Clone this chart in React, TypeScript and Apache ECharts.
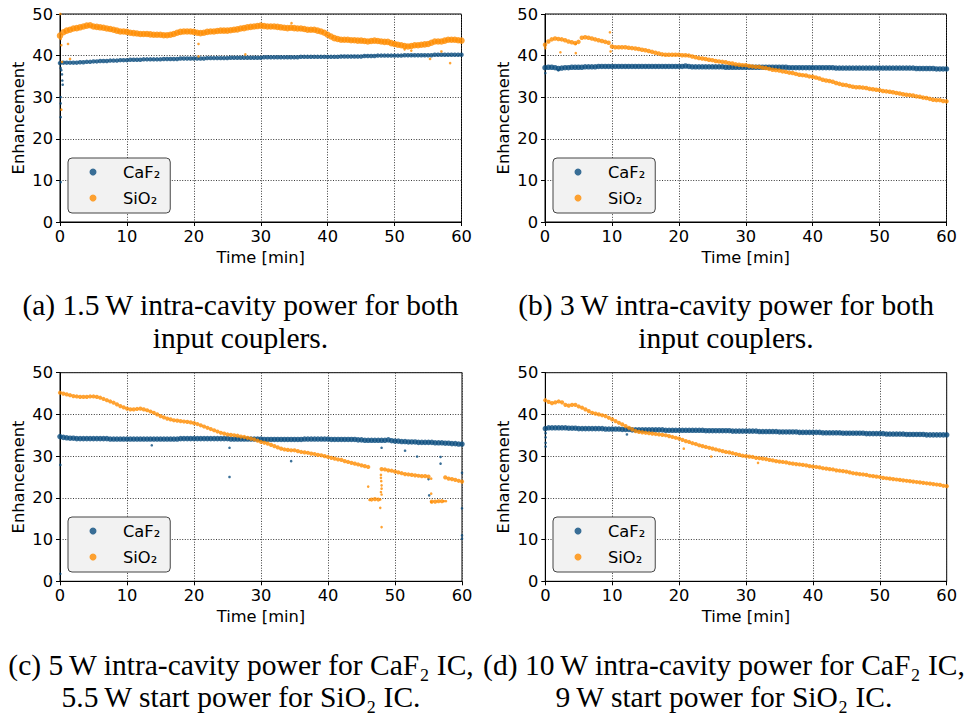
import React, { useEffect, useRef } from "react";
import * as echarts from "echarts";

// ---------------- data ----------------
const TIME = [
  0, 0.5, 1, 1.5, 2, 2.5, 3, 3.5, 4, 4.5, 5, 5.5, 6, 6.5, 7, 7.5, 8, 8.5, 9, 9.5,
  10, 10.5, 11, 11.5, 12, 12.5, 13, 13.5, 14, 14.5, 15, 15.5, 16, 16.5, 17, 17.5, 18, 18.5, 19, 19.5,
  20, 20.5, 21, 21.5, 22, 22.5, 23, 23.5, 24, 24.5, 25, 25.5, 26, 26.5, 27, 27.5, 28, 28.5, 29, 29.5,
  30, 30.5, 31, 31.5, 32, 32.5, 33, 33.5, 34, 34.5, 35, 35.5, 36, 36.5, 37, 37.5, 38, 38.5, 39, 39.5,
  40, 40.5, 41, 41.5, 42, 42.5, 43, 43.5, 44, 44.5, 45, 45.5, 46, 46.5, 47, 47.5, 48, 48.5, 49, 49.5,
  50, 50.5, 51, 51.5, 52, 52.5, 53, 53.5, 54, 54.5, 55, 55.5, 56, 56.5, 57, 57.5, 58, 58.5, 59, 59.5,
  60,
];

const X_TICKS = [0, 10, 20, 30, 40, 50, 60];
const Y_TICKS = [0, 10, 20, 30, 40, 50];
const SERIES_NAMES = ["CaF\u2082", "SiO\u2082"];

// (a) 1.5 W
const A_CAF2 = [
  38.2, 38.3, 38.3, 38.3, 38.3, 38.3, 38.4, 38.4, 38.5, 38.5, 38.6, 38.6, 38.7, 38.7, 38.7, 38.8, 38.8, 38.8, 38.9, 38.9,
  38.9, 39.0, 39.0, 39.0, 39.0, 39.1, 39.1, 39.1, 39.1, 39.1, 39.1, 39.2, 39.2, 39.2, 39.2, 39.2, 39.3, 39.3, 39.3, 39.3,
  39.3, 39.3, 39.3, 39.3, 39.4, 39.4, 39.4, 39.4, 39.4, 39.4, 39.4, 39.5, 39.5, 39.5, 39.5, 39.5, 39.5, 39.5, 39.5, 39.5,
  39.5, 39.6, 39.6, 39.6, 39.6, 39.6, 39.6, 39.6, 39.6, 39.6, 39.6, 39.6, 39.7, 39.7, 39.7, 39.7, 39.7, 39.7, 39.7, 39.7,
  39.7, 39.7, 39.7, 39.7, 39.8, 39.8, 39.8, 39.8, 39.8, 39.8, 39.8, 39.9, 39.9, 39.9, 39.9, 40.0, 40.0, 40.0, 40.0, 40.0,
  40.0, 40.0, 40.0, 40.1, 40.1, 40.1, 40.1, 40.1, 40.1, 40.1, 40.1, 40.1, 40.2, 40.2, 40.2, 40.2, 40.2, 40.2, 40.2, 40.2,
  40.2,
];
const A_SIO2 = [
  44.8, 45.6, 46.0, 46.2, 46.5, 46.6, 46.8, 47.0, 47.2, 47.3, 47.0, 46.9, 46.8, 46.7, 46.5, 46.4, 46.2, 46.0, 45.8, 45.8,
  45.7, 45.5, 45.4, 45.3, 45.2, 45.2, 45.2, 45.1, 45.0, 45.0, 45.0, 44.9, 44.9, 45.0, 45.2, 45.5, 45.7, 45.8, 45.8, 45.8,
  45.7, 45.5, 45.4, 45.5, 45.7, 45.8, 45.8, 45.9, 46.0, 46.0, 46.0, 46.1, 46.2, 46.3, 46.5, 46.6, 46.8, 46.9, 47.0, 47.1,
  47.2, 47.1, 47.0, 47.0, 47.0, 46.9, 46.8, 46.7, 46.6, 46.7, 46.6, 46.5, 46.5, 46.4, 46.2, 46.2, 46.2, 46.0, 45.8, 45.5,
  45.0, 44.6, 44.2, 44.0, 43.8, 43.8, 43.8, 43.7, 43.7, 43.6, 43.6, 43.5, 43.4, 43.5, 43.6, 43.5, 43.4, 43.3, 43.3, 43.0,
  42.8, 42.6, 42.5, 42.3, 42.2, 42.3, 42.5, 42.5, 42.6, 42.7, 42.8, 43.1, 43.4, 43.4, 43.4, 43.6, 43.8, 43.8, 43.8, 43.7,
  43.6,
];
const A_CAF2_OUT = [
  [0.1, 37.0], [0.2, 36.5], [0.3, 35.5], [0.35, 34.0], [0.4, 33.0], [0.1, 30.0], [0.1, 28.5], [0.1, 25.2], [0.1, 9.6],
];
const A_SIO2_OUT = [
  [0.1, 44.0], [0.2, 42.5], [0.3, 38.5], [0.2, 27.0], [0.05, 50.0], [1.2, 42.8], [1.5, 39.2], [20.7, 39.8], [20.7, 42.8],
  [27.7, 40.3], [34.6, 47.8], [55.3, 39.2], [58.3, 38.2], [57.0, 41.0], [52.5, 41.2], [51.5, 41.5],
];

// (b) 3 W
const B_CAF2 = [
  37.1, 37.2, 37.2, 37.1, 36.9, 37.0, 37.1, 37.1, 37.2, 37.2, 37.2, 37.2, 37.3, 37.3, 37.3, 37.3, 37.4, 37.4, 37.4, 37.4,
  37.4, 37.4, 37.4, 37.4, 37.4, 37.4, 37.4, 37.4, 37.4, 37.4, 37.4, 37.4, 37.4, 37.4, 37.4, 37.4, 37.4, 37.4, 37.4, 37.4,
  37.4, 37.4, 37.5, 37.4, 37.3, 37.3, 37.3, 37.3, 37.3, 37.3, 37.3, 37.3, 37.3, 37.3, 37.2, 37.2, 37.2, 37.2, 37.2, 37.2,
  37.2, 37.2, 37.2, 37.2, 37.2, 37.2, 37.2, 37.2, 37.2, 37.2, 37.2, 37.2, 37.2, 37.1, 37.1, 37.1, 37.1, 37.1, 37.1, 37.1,
  37.1, 37.1, 37.1, 37.1, 37.1, 37.1, 37.1, 37.0, 37.0, 37.0, 37.0, 37.0, 37.0, 37.0, 37.0, 37.0, 37.0, 37.0, 37.0, 37.0,
  37.0, 37.0, 37.0, 37.0, 37.0, 37.0, 37.0, 37.0, 37.0, 37.0, 37.0, 36.9, 36.9, 36.9, 36.9, 36.9, 36.9, 36.8, 36.8, 36.8,
  36.8,
];
const B_SIO2 = [
  42.6, 43.4, 43.9, 44.1, 44.0, 43.9, 43.7, 43.4, 43.2, 43.0, 43.3, 44.3, 44.4, 44.3, 44.1, 43.9, 43.7, 43.5, 43.3, 43.1,
  42.2, 42.0, 42.0, 42.0, 42.0, 41.9, 41.8, 41.7, 41.6, 41.4, 41.3, 41.1, 40.9, 40.7, 40.5, 40.3, 40.2, 40.2, 40.2, 40.2,
  40.2, 40.1, 40.1, 40.0, 39.8, 39.6, 39.4, 39.3, 39.2, 39.0, 38.9, 38.7, 38.6, 38.5, 38.4, 38.2, 38.1, 37.9, 37.8, 37.7,
  37.7, 37.5, 37.4, 37.3, 37.3, 37.1, 37.0, 36.8, 36.6, 36.5, 36.4, 36.2, 36.1, 35.9, 35.8, 35.6, 35.4, 35.3, 35.2, 35.0,
  34.9, 34.7, 34.5, 34.2, 34.0, 33.9, 33.7, 33.4, 33.2, 33.0, 32.9, 32.7, 32.5, 32.4, 32.4, 32.3, 32.2, 32.0, 31.9, 31.8,
  31.7, 31.5, 31.4, 31.3, 31.2, 31.0, 30.9, 30.7, 30.6, 30.5, 30.4, 30.2, 30.1, 29.9, 29.8, 29.6, 29.4, 29.3, 29.3, 29.1,
  29.0,
];
const B_CAF2_OUT = [[0.05, 35.8], [2.0, 36.5]];
const B_SIO2_OUT = [[0.05, 41.8], [2.3, 40.8], [4.6, 42.8], [4.6, 40.6], [9.7, 45.6], [9.8, 41.0]];

// (c) 5 W / 5.5 W
const C_CAF2 = [
  34.7, 34.5, 34.4, 34.3, 34.3, 34.2, 34.2, 34.2, 34.2, 34.2, 34.2, 34.2, 34.2, 34.2, 34.2, 34.1, 34.1, 34.1, 34.1, 34.1,
  34.1, 34.1, 34.1, 34.1, 34.1, 34.1, 34.1, 34.1, 34.1, 34.1, 34.1, 34.1, 34.1, 34.1, 34.1, 34.1, 34.2, 34.2, 34.2, 34.2,
  34.2, 34.2, 34.2, 34.2, 34.2, 34.2, 34.2, 34.2, 34.2, 34.2, 34.2, 34.1, 34.1, 34.1, 34.1, 34.1, 34.1, 34.1, 34.1, 34.1,
  34.1, 34.0, 34.0, 34.0, 34.0, 34.0, 34.0, 34.0, 34.0, 34.0, 34.0, 34.0, 34.0, 34.1, 34.1, 34.1, 34.1, 34.1, 34.1, 34.1,
  34.1, 34.0, 34.0, 34.0, 34.0, 34.0, 34.0, 34.0, 34.0, 33.9, 33.9, 33.8, 33.8, 33.8, 33.8, 33.8, 33.8, 33.8, 33.9, 33.7,
  33.6, 33.6, 33.5, 33.5, 33.4, 33.4, 33.4, 33.3, 33.3, 33.3, 33.3, 33.3, 33.2, 33.2, 33.2, 33.1, 33.1, 33.0, 33.0, 32.9,
  32.9,
];
const C_SIO2 = [
  45.2, 45.0, 44.8, 44.6, 44.4, 44.3, 44.2, 44.2, 44.2, 44.3, 44.3, 44.2, 44.0, 43.7, 43.4, 43.1, 42.8, 42.4, 42.0, 41.7,
  41.4, 41.2, 41.2, 41.3, 41.4, 41.2, 41.0, 40.7, 40.4, 40.0, 39.6, 39.3, 39.0, 38.8, 38.6, 38.5, 38.4, 38.3, 38.2, 38.1,
  37.9, 37.7, 37.4, 37.1, 36.8, 36.5, 36.2, 35.9, 35.6, 35.4, 35.2, 35.1, 35.0, 34.9, 34.7, 34.6, 34.4, 34.2, 34.0, 33.7,
  33.4, 33.2, 33.0, 32.7, 32.4, 32.1, 31.8, 31.6, 31.5, 31.4, 31.4, 31.2, 31.0, 30.9, 30.8, 30.6, 30.5, 30.3, 30.2, 30.0,
  29.8, 29.6, 29.4, 29.2, 29.1, 28.8, 28.6, 28.4, 28.2, 28.0, 27.8, 27.6, 27.4, 19.6, 19.7, 19.6, 26.9, 26.8, 26.6, 26.5,
  26.3, 26.1, 25.9, 25.7, 25.6, 25.5, 25.4, 25.3, 25.2, 25.2, 25.1, 19.1, 19.1, 19.2, 19.2, 24.9, 24.6, 24.5, 24.3, 24.1,
  23.9,
];
const C_CAF2_OUT = [
  [0.05, 27.9], [0.05, 1.8], [13.7, 32.6], [25.3, 32.0], [25.3, 25.0], [34.5, 28.8], [48.0, 32.0], [51.5, 31.3],
  [53.3, 29.9], [56.8, 29.8], [56.8, 28.2], [55.0, 24.5], [55.1, 20.6], [60.0, 26.0], [60.0, 17.5], [60.0, 11.0], [60.0, 10.2],
];
const C_SIO2_OUT = [
  [46.2, 19.5], [47.8, 19.6], [46.0, 22.7], [47.9, 25.5], [47.9, 24.8], [47.95, 24.0], [48.0, 23.0], [48.0, 22.2],
  [47.9, 21.4], [48.0, 20.8], [47.8, 17.6], [48.0, 13.0], [55.4, 19.0], [55.4, 24.6], [55.4, 21.0], [57.6, 19.2], [57.3, 19.2],
];

// (d) 10 W / 9 W
const D_CAF2 = [
  36.6, 36.8, 36.8, 36.8, 36.8, 36.8, 36.8, 36.7, 36.7, 36.7, 36.6, 36.6, 36.6, 36.6, 36.6, 36.6, 36.6, 36.6, 36.5, 36.5,
  36.5, 36.5, 36.5, 36.4, 36.4, 36.4, 36.3, 36.3, 36.3, 36.3, 36.3, 36.3, 36.3, 36.3, 36.3, 36.3, 36.2, 36.2, 36.2, 36.2,
  36.2, 36.2, 36.2, 36.2, 36.2, 36.2, 36.2, 36.2, 36.1, 36.1, 36.1, 36.1, 36.1, 36.1, 36.1, 36.1, 36.0, 36.0, 36.0, 36.0,
  36.0, 36.0, 36.0, 36.0, 35.9, 35.9, 35.9, 35.9, 35.9, 35.9, 35.8, 35.8, 35.8, 35.8, 35.8, 35.8, 35.7, 35.7, 35.7, 35.7,
  35.7, 35.7, 35.7, 35.6, 35.6, 35.6, 35.6, 35.6, 35.6, 35.5, 35.5, 35.5, 35.5, 35.5, 35.5, 35.5, 35.4, 35.4, 35.4, 35.4,
  35.4, 35.4, 35.3, 35.3, 35.3, 35.3, 35.3, 35.3, 35.2, 35.2, 35.2, 35.2, 35.2, 35.2, 35.1, 35.1, 35.1, 35.1, 35.1, 35.1,
  35.1,
];
const D_SIO2 = [
  43.4, 43.0, 42.7, 42.9, 43.1, 42.9, 42.3, 42.1, 42.3, 42.3, 41.9, 41.6, 41.2, 40.8, 40.4, 40.2, 40.0, 39.8, 39.6, 39.2,
  38.8, 38.4, 38.0, 37.6, 37.2, 36.8, 36.4, 36.0, 35.8, 35.7, 35.6, 35.5, 35.4, 35.3, 35.2, 35.1, 35.0, 34.8, 34.6, 34.4,
  34.2, 33.9, 33.6, 33.4, 33.1, 32.9, 32.6, 32.4, 32.2, 32.0, 31.8, 31.6, 31.4, 31.2, 31.0, 30.9, 30.7, 30.5, 30.3, 30.1,
  30.0, 29.9, 29.8, 29.6, 29.5, 29.4, 29.3, 29.1, 29.0, 28.8, 28.7, 28.6, 28.5, 28.3, 28.2, 28.1, 28.0, 27.9, 27.8, 27.6,
  27.5, 27.4, 27.3, 27.1, 27.0, 26.9, 26.8, 26.6, 26.5, 26.4, 26.3, 26.1, 25.9, 25.8, 25.7, 25.6, 25.5, 25.3, 25.2, 25.1,
  25.0, 24.8, 24.7, 24.6, 24.5, 24.4, 24.3, 24.2, 24.1, 24.0, 23.9, 23.8, 23.7, 23.6, 23.5, 23.4, 23.3, 23.2, 23.1, 22.9,
  22.8,
];
const D_CAF2_OUT = [[0.05, 35.5], [0.05, 34.5], [0.05, 33.2], [0.05, 32.3], [12.2, 35.2]];
const D_SIO2_OUT = [[20.7, 31.8], [24.8, 29.9], [31.8, 28.4]];

const CAPTIONS = [
  ["(a) 1.5\u2009W intra-cavity power for both", "input couplers."],
  ["(b) 3\u2009W intra-cavity power for both", "input couplers."],
  ["(c) 5\u2009W intra-cavity power for CaF\u2082 IC,", "5.5\u2009W start power for SiO\u2082 IC."],
  ["(d) 10\u2009W intra-cavity power for CaF\u2082 IC,", "9\u2009W start power for SiO\u2082 IC."],
];

// ---------------- styling / layout ----------------
const BLUE = "#0a4c7e";
const ORANGE = "#ff8c00";
const SANS = "DejaVu Sans";
const SERIF = "Liberation Serif";
const FS = 16.3;

const PANELS = [
  { grid: { left: 60, top: 14, width: 401.5, height: 208 }, legend: { left: 68, top: 158 }, caf: A_CAF2, sio: A_SIO2, cafOut: A_CAF2_OUT, sioOut: A_SIO2_OUT, cafSize: 4.5, sioSize: 6.5, cap: { x: 240.5, y1: 305, y2: 338 } },
  { grid: { left: 545, top: 14, width: 401.5, height: 208 }, legend: { left: 553, top: 158 }, caf: B_CAF2, sio: B_SIO2, cafOut: B_CAF2_OUT, sioOut: B_SIO2_OUT, cafSize: 5.5, sioSize: 4.5, cap: { x: 726, y1: 305, y2: 338 } },
  { grid: { left: 60, top: 372.7, width: 402, height: 208.6 }, legend: { left: 68, top: 517 }, caf: C_CAF2, sio: C_SIO2, cafOut: C_CAF2_OUT, sioOut: C_SIO2_OUT, cafSize: 5.5, sioSize: 4.2, cap: { x: 241, y1: 665, y2: 697 } },
  { grid: { left: 545.3, top: 372.7, width: 401.4, height: 208.6 }, legend: { left: 553, top: 517 }, caf: D_CAF2, sio: D_SIO2, cafOut: D_CAF2_OUT, sioOut: D_SIO2_OUT, cafSize: 5.5, sioSize: 4.2, cap: { x: 724, y1: 665, y2: 697 } },
];

function pairs(values: number[]) {
  return values.map((v, i) => [TIME[i], v]);
}

function buildOption() {
  const grid: any[] = [];
  const xAxis: any[] = [];
  const yAxis: any[] = [];
  const legend: any[] = [];
  const series: any[] = [];
  const graphic: any[] = [];

  const labelStyle = { fontFamily: SANS, fontSize: FS, color: "#000" };
  const splitLine = { show: true, lineStyle: { color: "#3a3a3a", width: 1, type: [1, 1.6] } };

  PANELS.forEach((p, i) => {
    grid.push({ ...p.grid, show: true, borderColor: "#000", borderWidth: 1, backgroundColor: "transparent", containLabel: false });
    xAxis.push({
      type: "value", gridIndex: i, min: 0, max: 60, interval: 10,
      axisLine: { show: true, onZero: false, lineStyle: { color: "#000", width: 1 } },
      axisTick: { show: true, inside: false, length: 4, lineStyle: { color: "#000" } },
      axisLabel: { ...labelStyle, margin: 6, customValues: X_TICKS },
      splitLine,
      name: "Time [min]", nameLocation: "middle", nameGap: 27, nameTextStyle: labelStyle,
    });
    yAxis.push({
      type: "value", gridIndex: i, min: 0, max: 50, interval: 10,
      axisLine: { show: true, onZero: false, lineStyle: { color: "#000", width: 1 } },
      axisTick: { show: true, inside: false, length: 4, lineStyle: { color: "#000" } },
      axisLabel: { ...labelStyle, margin: 7, customValues: Y_TICKS },
      splitLine,
      name: "Enhancement", nameLocation: "middle", nameGap: 34, nameTextStyle: labelStyle,
    });
    legend.push({
      data: SERIES_NAMES, orient: "vertical", left: p.legend.left, top: p.legend.top,
      icon: "circle", itemWidth: 7, itemHeight: 7, itemGap: 8,
      padding: [5, 10, 6, 21.5], backgroundColor: "#f2f2f2", borderColor: "#444", borderWidth: 1, borderRadius: 4,
      selectedMode: false,
      textStyle: { fontFamily: SANS, fontSize: FS, color: "#000", lineHeight: 18, padding: [0, 0, 0, 21.5] },
    });
    series.push(
      { type: "scatter", name: SERIES_NAMES[0], xAxisIndex: i, yAxisIndex: i, data: pairs(p.caf), symbol: "circle", symbolSize: p.cafSize, itemStyle: { color: BLUE }, silent: true, z: 2 },
      { type: "scatter", name: SERIES_NAMES[0], xAxisIndex: i, yAxisIndex: i, data: p.cafOut, symbol: "circle", symbolSize: 2.6, itemStyle: { color: BLUE }, silent: true, z: 2 },
      { type: "scatter", name: SERIES_NAMES[1], xAxisIndex: i, yAxisIndex: i, data: pairs(p.sio), symbol: "circle", symbolSize: p.sioSize, itemStyle: { color: ORANGE }, silent: true, z: 3 },
      { type: "scatter", name: SERIES_NAMES[1], xAxisIndex: i, yAxisIndex: i, data: p.sioOut, symbol: "circle", symbolSize: 2.6, itemStyle: { color: ORANGE }, silent: true, z: 3 },
    );
    const capLines = CAPTIONS[i];
    [p.cap.y1, p.cap.y2].forEach((y, k) => {
      graphic.push({
        type: "text", x: p.cap.x, y, silent: true,
        style: {
          text: capLines[k], x: 0, y: 0, fill: "#000",
          font: `29.5px "${SERIF}", serif`, fontFamily: SERIF, fontSize: 29.5,
          align: "center", verticalAlign: "middle", textAlign: "center", textVerticalAlign: "middle",
        },
      });
    });
  });

  return { animation: false, backgroundColor: "#fff", grid, xAxis, yAxis, legend, series, graphic };
}

export default function App() {
  const ref = useRef<HTMLDivElement>(null);
  useEffect(() => {
    if (!ref.current) return;
    const chart = echarts.init(ref.current, undefined, { renderer: "svg" });
    chart.setOption(buildOption() as any);
    return () => chart.dispose();
  }, []);
  return (
    <div
      ref={ref}
      style={{ position: "absolute", left: 0, top: 0, width: 968, height: 713, background: "#fff" }}
    />
  );
}
